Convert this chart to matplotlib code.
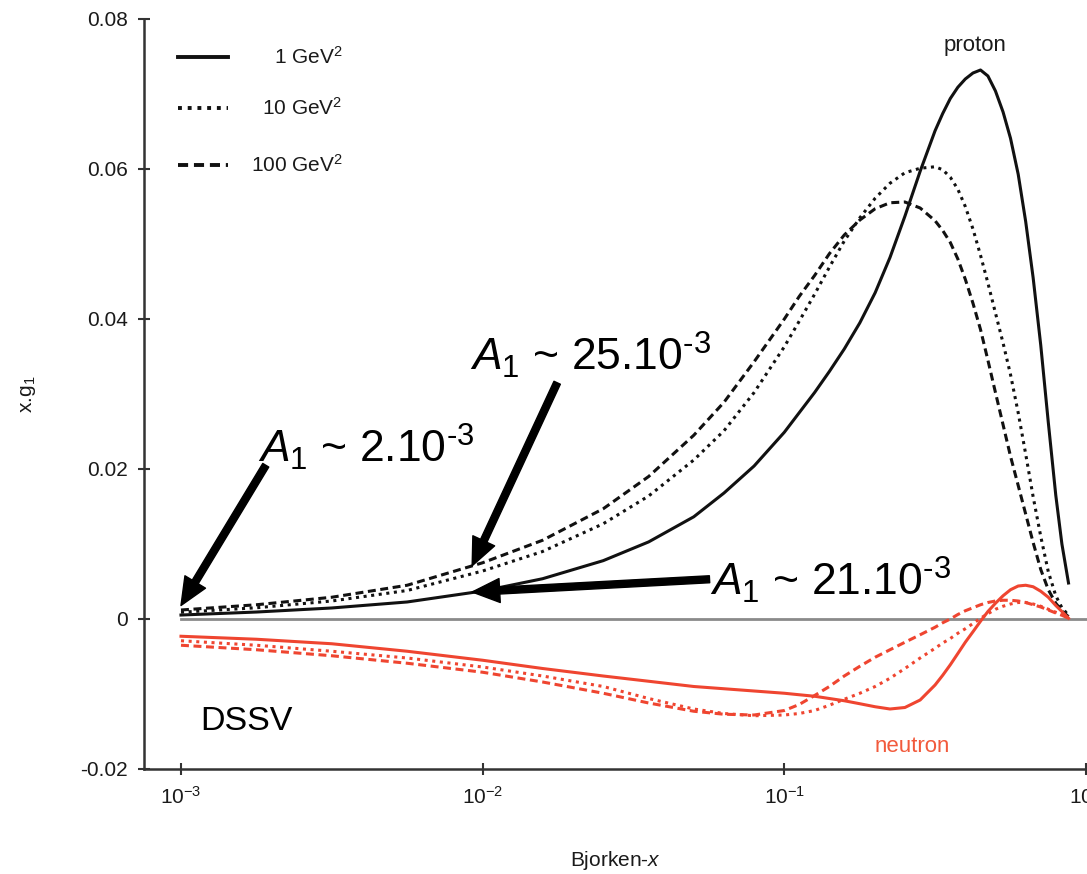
import matplotlib
matplotlib.use("Agg")
import matplotlib.pyplot as plt

plt.rcParams['font.family'] = ['Liberation Sans', 'DejaVu Sans']
plt.rcParams['mathtext.fontset'] = 'custom'
plt.rcParams['mathtext.rm'] = 'Liberation Sans'
plt.rcParams['mathtext.it'] = 'Liberation Sans:italic'
plt.rcParams['mathtext.bf'] = 'Liberation Sans:bold'

# Bjorken-x sampling points
x_vals = [0.001, 0.00178, 0.00316, 0.00562, 0.01, 0.0158, 0.0251, 0.0355,
          0.0501, 0.0631, 0.0794, 0.1, 0.112, 0.126, 0.141, 0.158, 0.178,
          0.2, 0.224, 0.251, 0.282, 0.316, 0.335, 0.355, 0.376, 0.398, 0.422,
          0.447, 0.473, 0.501, 0.531, 0.562, 0.596, 0.631, 0.668, 0.708,
          0.750, 0.794, 0.832, 0.875]

# x.g1 for the proton at Q^2 = 1, 10, 100 GeV^2
proton_1 = [0.00053, 0.00093, 0.00147, 0.00227, 0.00373, 0.00537, 0.00778,
            0.01028, 0.01363, 0.0168, 0.0204, 0.0249, 0.0275, 0.0302,
            0.0330, 0.0360, 0.0395, 0.0435, 0.0482, 0.0537, 0.0597, 0.0651,
            0.0674, 0.0694, 0.0709, 0.0720, 0.0728, 0.0732, 0.0724, 0.0704,
            0.0676, 0.0641, 0.0593, 0.0530, 0.0455, 0.0365, 0.0262, 0.0165,
            0.0100, 0.0048]
proton_10 = [0.0009, 0.0015, 0.0024, 0.0038, 0.0064, 0.0090, 0.0127, 0.0164,
             0.0212, 0.0251, 0.0302, 0.0363, 0.0397, 0.0433, 0.0469, 0.0504,
             0.0535, 0.0561, 0.0581, 0.0595, 0.0601, 0.0603, 0.0599, 0.0589,
             0.0573, 0.0550, 0.0520, 0.0485, 0.0448, 0.0408, 0.0368, 0.0326,
             0.0275, 0.0220, 0.0163, 0.0110, 0.0063, 0.0031, 0.0015, 0.0005]
proton_100 = [0.0012, 0.0019, 0.0029, 0.0045, 0.0075, 0.0105, 0.0147,
              0.0190, 0.0245, 0.0289, 0.0343, 0.0400, 0.0430, 0.0458,
              0.0487, 0.0512, 0.0532, 0.0547, 0.0555, 0.0556, 0.0548,
              0.0531, 0.0518, 0.0502, 0.0480, 0.0453, 0.0421, 0.0386,
              0.0345, 0.0302, 0.0259, 0.0217, 0.0178, 0.0140, 0.0102,
              0.0066, 0.0039, 0.0021, 0.0011, 0.0003]

# x.g1 for the neutron at Q^2 = 1, 10, 100 GeV^2
neutron_1 = [-0.0023, -0.0027, -0.0033, -0.0043, -0.0055, -0.0066, -0.0076,
             -0.0083, -0.0090, -0.0093, -0.0096, -0.0099, -0.0101, -0.0103,
             -0.0106, -0.0109, -0.0113, -0.0117, -0.0120, -0.0118, -0.0108,
             -0.0088, -0.0075, -0.0061, -0.0046, -0.0031, -0.0017, -0.0003,
             0.0010, 0.0021, 0.0031, 0.0039, 0.0044, 0.0045, 0.0043, 0.0037,
             0.0029, 0.0018, 0.0010, 0.0001]
neutron_10 = [-0.0029, -0.0035, -0.0043, -0.0052, -0.0064, -0.0076, -0.0090,
              -0.0106, -0.0120, -0.0126, -0.0129, -0.0128, -0.0126, -0.0122,
              -0.0115, -0.0107, -0.0099, -0.0090, -0.0079, -0.0066, -0.0052,
              -0.0039, -0.0032, -0.0026, -0.0019, -0.0013, -0.0006, 0.0001,
              0.0007, 0.0013, 0.0017, 0.0020, 0.0022, 0.0022, 0.0020, 0.0017,
              0.0013, 0.0009, 0.0006, 0.0003]
neutron_100 = [-0.0035, -0.0041, -0.0049, -0.0059, -0.0071, -0.0084, -0.0099,
               -0.0112, -0.0123, -0.0127, -0.0128, -0.0122, -0.0114, -0.0102,
               -0.0090, -0.0076, -0.0063, -0.0051, -0.0041, -0.0031, -0.0021,
               -0.0011, -0.0005, 0.0000, 0.0006, 0.0011, 0.0015, 0.0019,
               0.0022, 0.0024, 0.0025, 0.0025, 0.0024, 0.0022, 0.0019, 0.0016,
               0.0012, 0.0008, 0.0005, 0.0001]

q2_labels = ['1 GeV$^2$', '10 GeV$^2$', '100 GeV$^2$']

x_ticks = [1e-3, 1e-2, 1e-1, 1]
x_tick_labels = ['$10^{-3}$', '$10^{-2}$', '$10^{-1}$', '$10^{0}$']
y_ticks = [-0.02, 0, 0.02, 0.04, 0.06, 0.08]
y_tick_labels = ['-0.02', '0', '0.02', '0.04', '0.06', '0.08']

# asymmetry call-outs: label, text anchor, arrow tail, arrow tip
a1_labels = ['$\\mathit{A}_{\\mathit{1}}$ ~ 2.10$^{\\mathrm{\u20103}}$',
             '$\\mathit{A}_{\\mathit{1}}$ ~ 25.10$^{\\mathrm{\u20103}}$',
             '$\\mathit{A}_{\\mathit{1}}$ ~ 21.10$^{\\mathrm{\u20103}}$']
a1_text_xy = [(0.00180, 0.0208), (0.00905, 0.0332), (0.0565, 0.00307)]
a1_tail_xy = [(0.00191, 0.0205), (0.01766, 0.0315), (0.0565, 0.0053)]
a1_tip_xy = [(0.001, 0.0018), (0.00923, 0.0071), (0.00923, 0.0036)]

BLACK = '#111111'
RED = '#ef4530'
styles = ['-', (0, (1, 1.5)), (0, (2.6, 1.5))]

fig = plt.figure(figsize=(10.87, 8.74), dpi=100)
ax = fig.add_axes([144 / 1087, 105 / 874, 942 / 1087, 750 / 874])

ax.set_xscale('log')
ax.set_xlim(7.54e-4, 1.0)
ax.set_ylim(-0.02, 0.08)

# zero line
ax.plot([1e-3, 1.0], [0, 0], color='#8a8a8a', lw=2.0, zorder=1,
        clip_on=False)

for ys, ls in zip([proton_1, proton_10, proton_100], styles):
    ax.plot(x_vals, ys, color=BLACK, lw=2.2, ls=ls, zorder=3)
for ys, ls in zip([neutron_1, neutron_10, neutron_100], styles):
    ax.plot(x_vals, ys, color=RED, lw=2.2, ls=ls, zorder=3)

# legend drawn as line samples with right-aligned labels
leg_rows = [0.949, 0.881, 0.805]
for lbl, ls, yr in zip(q2_labels, styles, leg_rows):
    ax.plot([0.036, 0.089], [yr, yr], transform=ax.transAxes, color=BLACK,
            lw=2.8, ls=ls)
    ax.text(0.211, yr, lbl, transform=ax.transAxes, ha='right', va='center',
            fontsize=15, color='#1a1a1a')

ax.text(0.430, 0.0757, 'proton', ha='center', va='baseline', fontsize=16,
        color='#1a1a1a')
ax.text(0.2658, -0.01773, 'neutron', ha='center', va='baseline', fontsize=16,
        color='#f25a3c')
ax.text(0.00116, -0.0148, 'DSSV', ha='left', va='baseline', fontsize=24.5,
        color='black')

for lbl, txy, tail, tip in zip(a1_labels, a1_text_xy, a1_tail_xy, a1_tip_xy):
    ax.annotate('', xy=tip, xytext=tail,
                arrowprops=dict(arrowstyle='simple,head_length=0.55,'
                                'head_width=0.48,tail_width=0.14',
                                mutation_scale=36, color='black',
                                shrinkA=0, shrinkB=0), zorder=5)
    ax.text(txy[0], txy[1], lbl, ha='left', va='baseline', fontsize=32,
            color='black', zorder=6)

ax.set_xticks(x_ticks)
ax.set_xticklabels(x_tick_labels)
ax.set_yticks(y_ticks)
ax.set_yticklabels(y_tick_labels)
ax.minorticks_off()
ax.tick_params(axis='both', direction='inout', length=9, width=1.5,
               color='#333333', labelsize=15, labelcolor='#1a1a1a')
ax.tick_params(axis='x', pad=8)
ax.tick_params(axis='y', pad=7)

for side in ['top', 'right']:
    ax.spines[side].set_visible(False)
for side in ['left', 'bottom']:
    ax.spines[side].set_color('#333333')
    ax.spines[side].set_linewidth(1.8)

ax.set_xlabel(r'Bjorken-$\mathit{x}$', fontsize=15, color='#1a1a1a')
ax.xaxis.set_label_coords(0.5, -0.107)
ax.set_ylabel(r'x.g$_{\mathit{1}}$', fontsize=15, color='#1a1a1a')
ax.yaxis.set_label_coords(-0.113, 0.5)

fig.savefig('out.png', dpi=100)
